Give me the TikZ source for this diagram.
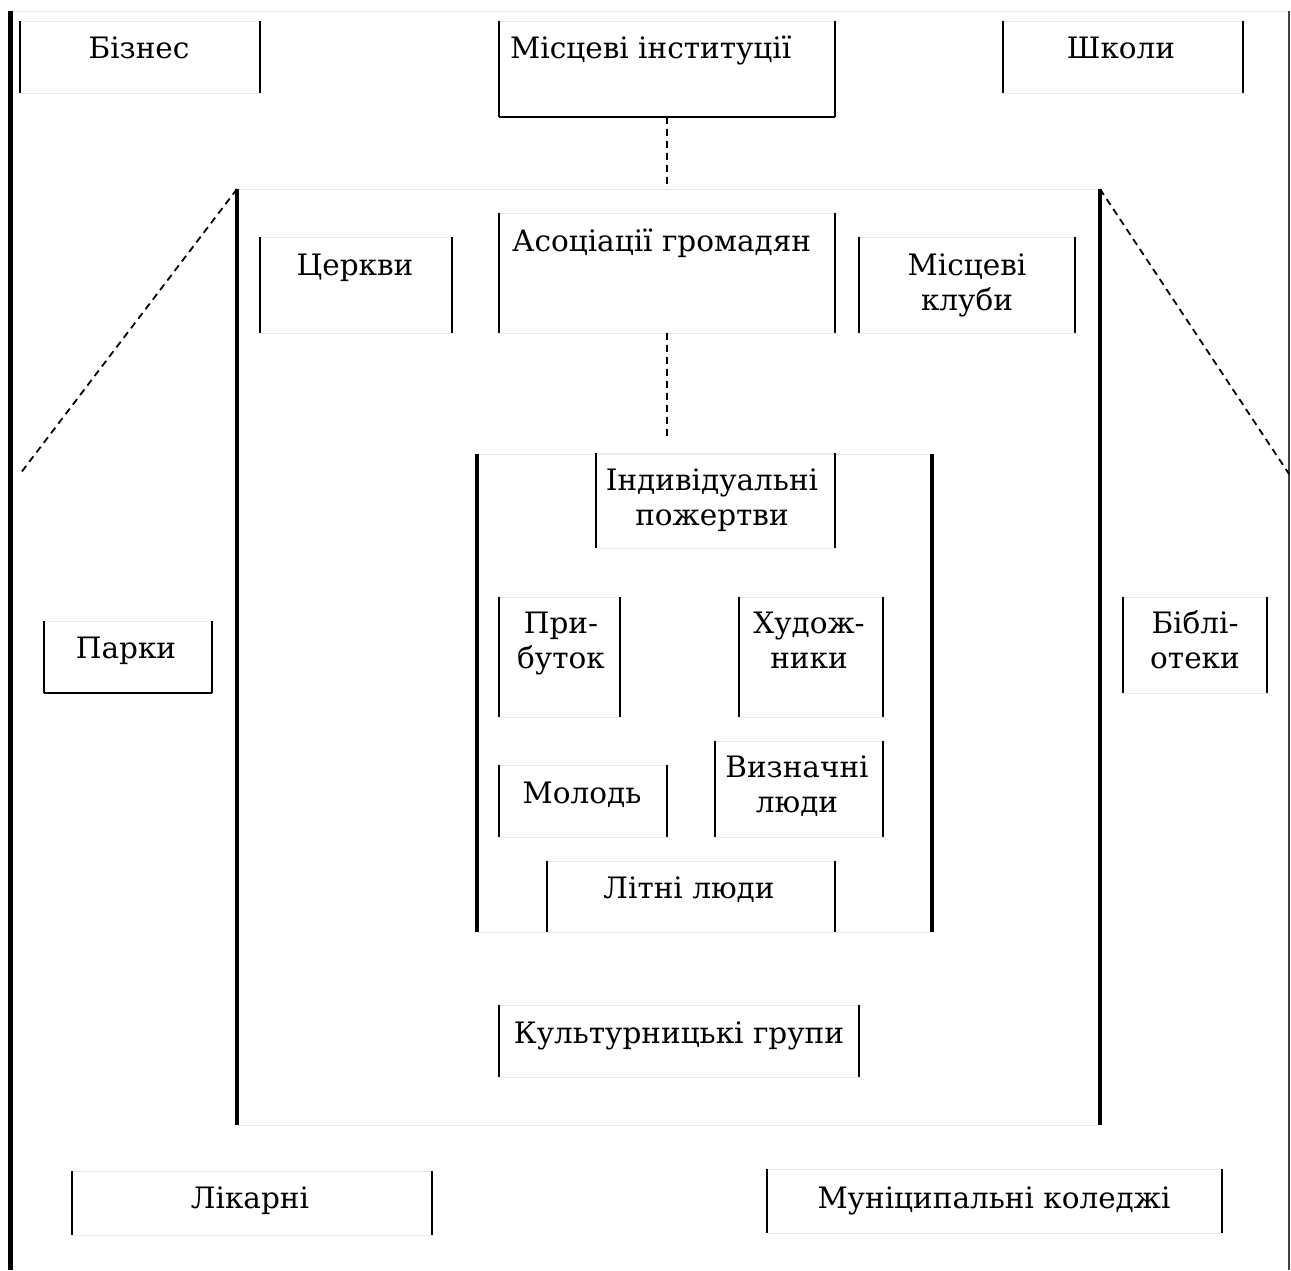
\documentclass[tikz,border=0pt]{standalone}
\usepackage{fontspec}
\setmainfont{DejaVu Serif}
\begin{document}
\begin{tikzpicture}[x=1pt,y=-1pt,
  faint/.style={draw=black!8,line width=1pt},
  side/.style={draw=black,line width=1.5pt},
  frame/.style={draw=black,line width=4pt},
  boxshape/.style={rectangle,inner sep=0pt,outer sep=0pt,faint},
  lbl/.style={inner sep=0pt,font=\fontsize{29.5}{35}\selectfont,align=center},
  link/.style={draw=black,line width=1.8pt,dash pattern=on 7pt off 5pt}]
\useasboundingbox (0,0) rectangle (1291,1270);
\newcommand\mkbox[5]{%
  \node[boxshape,minimum width={(#4-#2)*1pt},minimum height={(#5-#3)*1pt}] (#1) at ({(#2+#4)/2},{(#3+#5)/2}) {};
  \draw[side] (#1.north west) -- (#1.south west) (#1.north east) -- (#1.south east);}
% outer frame
\coordinate (o1) at (10.5,11); \coordinate (o2) at (1289,11);
\coordinate (o3) at (10.5,1270); \coordinate (o4) at (1289,1270);
\draw[faint] (o1) -- (o2);
\draw[draw=black!75,line width=1.6pt] (o2) -- (o4);
\draw[frame,line width=5pt] (o1) -- (o3);
% middle frame
\coordinate (m1) at (237,189); \coordinate (m2) at (1100,189);
\coordinate (m3) at (237,1125); \coordinate (m4) at (1100,1125);
\draw[faint] (m1) -- (m2) (m3) -- (m4);
\draw[frame] (m1) -- (m3) (m2) -- (m4);
% inner frame
\coordinate (i1) at (477,454); \coordinate (i2) at (932,454);
\coordinate (i3) at (477,932); \coordinate (i4) at (932,932);
\draw[faint] (i1) -- (i2) (i3) -- (i4);
\draw[frame,line width=3.5pt] (i1) -- (i3) (i2) -- (i4);
% boxes
\mkbox{biz}{20}{21}{260}{93}
\mkbox{inst}{499}{21}{835}{117}
\draw[side] (inst.south west) -- (inst.south east);
\mkbox{shk}{1003}{21}{1243}{93}
\mkbox{cer}{260}{237}{452}{333}
\mkbox{aso}{499}{213}{835}{333}
\mkbox{klu}{859}{237}{1075}{333}
\mkbox{ind}{596}{453}{835}{548}
\mkbox{pry}{499}{597}{620}{717}
\mkbox{hud}{739}{597}{883}{717}
\mkbox{mol}{499}{765}{667}{837}
\mkbox{vyz}{715}{741}{883}{837}
\mkbox{lit}{547}{861}{835}{932}
\mkbox{kul}{499}{1005}{859}{1077}
\mkbox{par}{44}{621}{212}{693}
\draw[side] (par.south west) -- (par.south east);
\mkbox{bib}{1123}{597}{1267}{693}
\mkbox{lik}{72}{1171}{432}{1235}
\mkbox{mun}{767}{1169}{1222}{1233}
% labels
\node[lbl,anchor=base] (bizT) at (139,58) {Бізнес};
\node[lbl,anchor=base west] (instT) at (510,58) {Місцеві інституції};
\node[lbl,anchor=base] (shkT) at (1121,58) {Школи};
\node[lbl,anchor=base] (cerT) at (355,275) {Церкви};
\node[lbl,anchor=base west] (asoT) at (512,251) {Асоціації громадян};
\node[lbl,anchor=base] (kluT) at (967,310) {Місцеві\\клуби};
\node[lbl,anchor=base] (indT) at (712,525) {Індивідуальні\\пожертви};
\node[lbl,anchor=base] (pryT) at (561,668) {При-\\буток};
\node[lbl,anchor=base] (hudT) at (809,668) {Худож-\\ники};
\node[lbl,anchor=base] (molT) at (582,803) {Молодь};
\node[lbl,anchor=base] (vyzT) at (797,812) {Визначні\\люди};
\node[lbl,anchor=base] (litT) at (689,898) {Літні люди};
\node[lbl,anchor=base] (kulT) at (679,1043) {Культурницькі групи};
\node[lbl,anchor=base] (parT) at (126,658) {Парки};
\node[lbl,anchor=base] (bibT) at (1195,668) {Біблі-\\отеки};
\node[lbl,anchor=base] (likT) at (250,1208) {Лікарні};
\node[lbl,anchor=base] (munT) at (994,1208) {Муніципальні коледжі};
% connectors
\coordinate (aEnd) at (667,440);
\coordinate (lEnd) at (20,474);
\coordinate (rEnd) at (1289,474);
\draw[link] (inst.south) -- (inst.south |- m1);
\draw[link] (aso.south) -- (aEnd);
\draw[link] (m1) -- (lEnd);
\draw[link] (m2) -- (rEnd);
\end{tikzpicture}
\end{document}
